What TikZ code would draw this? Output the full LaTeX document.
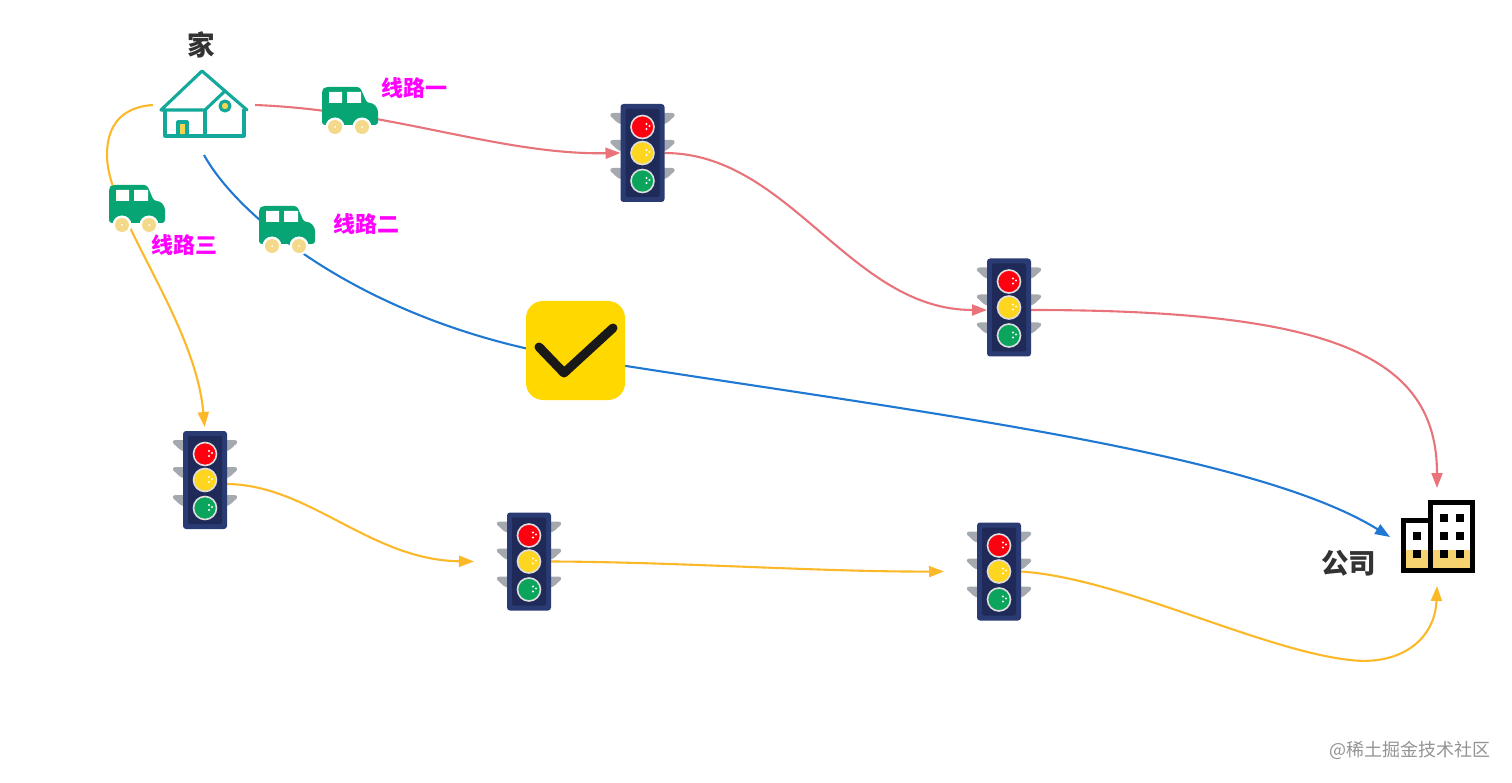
\documentclass[tikz,border=0pt]{standalone}
\usepackage{fontspec}
\setmainfont{Noto Sans CJK SC}
\usepackage{tikz}
\usetikzlibrary{arrows.meta,backgrounds}
\definecolor{routered}{HTML}{E8737A}
\definecolor{routeblue}{HTML}{1F78D1}
\definecolor{routeyellow}{HTML}{FBB92A}
\definecolor{carcol}{HTML}{08A574}
\definecolor{wheelcol}{HTML}{F5D98A}
\definecolor{housecol}{HTML}{12A89A}
\definecolor{doorcol}{HTML}{F3D552}
\definecolor{bandcol}{HTML}{F7D36F}
\definecolor{bodycol}{HTML}{2A3A72}
\definecolor{innercol}{HTML}{1F2A58}
\definecolor{earcol}{HTML}{A4A9B0}
\definecolor{checkcol}{HTML}{FFD800}
\definecolor{inkcol}{HTML}{333333}
\definecolor{namecol}{HTML}{FF00FF}
\tikzset{
  anchorbox/.style={inner sep=0pt, outer sep=0pt},
  route/.style={line width=2.1pt, -{Triangle[length=15pt,width=11pt]}},
  place/.style={font=\bfseries\fontsize{27.5}{28}\selectfont, text=inkcol},
  routename/.style={font=\bfseries\fontsize{22}{22}\selectfont, text=namecol},
  lamp/.style={draw=white!75!gray, line width=1.6pt},
  carpic/.pic={
    % windows are holes: a route behind the car shows through
    \fill[carcol, even odd rule, rounded corners=3] (-28,14) -- (-28,-21) -- (-25,-24) -- (10,-24) -- (17,-8)
      -- (23,-8) -- (28,-2) -- (28,14) -- cycle
      [sharp corners] (-21,-19) rectangle (-8,-8) (-3,-19) rectangle (11,-8);
    \fill[white, opacity=.85] (-21,-19) rectangle (-8,-8) (-3,-19) rectangle (11,-8);
    \foreach \wx in {-15,12}{
      \fill[white] (\wx,16) circle[radius=9.5];
      \fill[wheelcol] (\wx,16) circle[radius=7];
      \fill[white] (\wx,16) circle[radius=1];
    }
  },
  lightpic/.pic={
    \foreach \s in {-1,1}{
      \foreach \ey in {-35,-8,20}{
        \fill[earcol, xscale=\s] (21,\ey-5) -- (29,\ey-5) .. controls (33,\ey-5) and (33,\ey-2) .. (30,\ey)
          .. controls (27,\ey+3) and (24,\ey+6) .. (21,\ey+6) -- cycle;
      }
    }
    \fill[bodycol, rounded corners=3] (-22,-49) rectangle (22,49);
    \fill[innercol, rounded corners=2] (-17,-44) rectangle (17,44);
    \foreach \ly/\lc in {-26/FF0010,0/FFD61F,28/0BA45C}{
      \definecolor{lampcol}{HTML}{\lc}
      \filldraw[lamp, fill=lampcol] (0,\ly) circle[radius=11.5];
      \fill[white] (4,\ly-3) circle[radius=1.2] (7,\ly-1) circle[radius=1.2] (4,\ly+2) circle[radius=1.2];
    }
  },
}
\begin{document}
\begin{tikzpicture}[x=1pt, y=-1pt]
  \useasboundingbox (0,0) rectangle (1512,783);
  % house
  \node[anchorbox, minimum width=102pt, minimum height=100pt] (home) at (204,105) {};
  \node[place] (homelabel) at (201,45) {家};
  \begin{scope}[line width=3.1pt, draw=housecol, line join=round, line cap=round]
    \fill[doorcol] (178,122) rectangle (187,135);
    \draw (178,135) -- (178,122) -- (187,122) -- (187,135);
    \draw (165,110) -- (165,136) -- (244,136) -- (244,110);
    \draw (205,110) -- (205,136);
    \draw (161,110) -- (202,71) -- (225,91);
    \draw (161,110) -- (205,110) -- (225,91) -- (247,110);
    \filldraw[fill=doorcol] (225,106) circle[radius=5];
  \end{scope}
  % office
  \node[anchorbox, minimum width=94pt, minimum height=98pt] (office) at (1437,537) {};
  \node[place] (officelabel) at (1348.5,563) {公司};
  \fill[bandcol] (1403,550) rectangle (1473,571);
  \draw[line width=5pt] (1403.5,570.5) rectangle (1430,520.5);
  \draw[line width=5pt] (1430,570.5) rectangle (1472.5,502.5);
  \foreach \wx/\wy in {1417/536,1417/554,1444/518,1460/518,1444/536,1460/536,1444/554,1460/554}{
    \fill (\wx-4,\wy-4) rectangle (\wx+4,\wy+4);
  }
  % traffic lights
  \foreach \n/\x/\y in {lightA/642.5/153,lightB/1009/307.5,lightC/205/480,lightD/529/561.5,lightE/999/571.5}{
    \node[anchorbox, minimum width=44pt, minimum height=98pt] (\n) at (\x,\y) {};
    \pic at (\n) {lightpic};
  }
  % chosen route marker
  \node[anchorbox, fill=checkcol, rounded corners=17pt, minimum size=99pt] (check) at (575.5,350.5) {};
  \draw[line width=9pt, line cap=round, line join=round, draw=black!90]
    (539,347) -- (564,373) -- (613,328);
  % cars
  \pic at (350,111) {carpic};
  \pic at (287,230) {carpic};
  \pic at (137,209) {carpic};
  % route names
  \node[routename] (routeone) at (414.5,88) {线路一};
  \node[routename] (routetwo) at (366.5,224) {线路二};
  \node[routename] (routethree) at (184.5,245) {线路三};
  % watermark
  \node[font=\fontsize{18}{18}\selectfont, text=gray!85] (mark) at (1409.5,750) {@稀土掘金技术社区};
  % connectors
  \begin{scope}[on background layer]
    \draw[route, routered] (home.east) .. controls (390,110) and (500,155) .. (lightA.west);
    \draw[route, routered] (lightA.east) .. controls (790,153) and (850,310) .. ([yshift=-2.5pt]lightB.west);
    \draw[route, routered] ([yshift=-2.5pt]lightB.east) .. controls (1330,310) and (1437,355) .. (office.north);
    \draw[route, routeblue] (home.south) .. controls (240,220) and (370,325) .. ([yshift=-7.5pt]check.center)
      .. controls (900,410) and (1250,450) .. (office.west);
    \draw[route, routeyellow, shorten >=4pt] (home.west) .. controls (122,107) and (107,125) .. (107,155)
      .. controls (107,215) and (195,320) .. (lightC.north);
    \draw[route, routeyellow] ([yshift=-4pt]lightC.east) .. controls (310,485) and (370,560) .. ([xshift=-33pt]lightD.west);
    \draw[route, routeyellow] (lightD.east) .. controls (680,562) and (820,572) .. ([xshift=-33pt]lightE.west);
    \draw[route, routeyellow] (lightE.east) .. controls (1120,578) and (1260,650) .. (1350,660)
      .. controls (1400,666) and (1435,640) .. (office.south);
  \end{scope}
\end{tikzpicture}
\end{document}
